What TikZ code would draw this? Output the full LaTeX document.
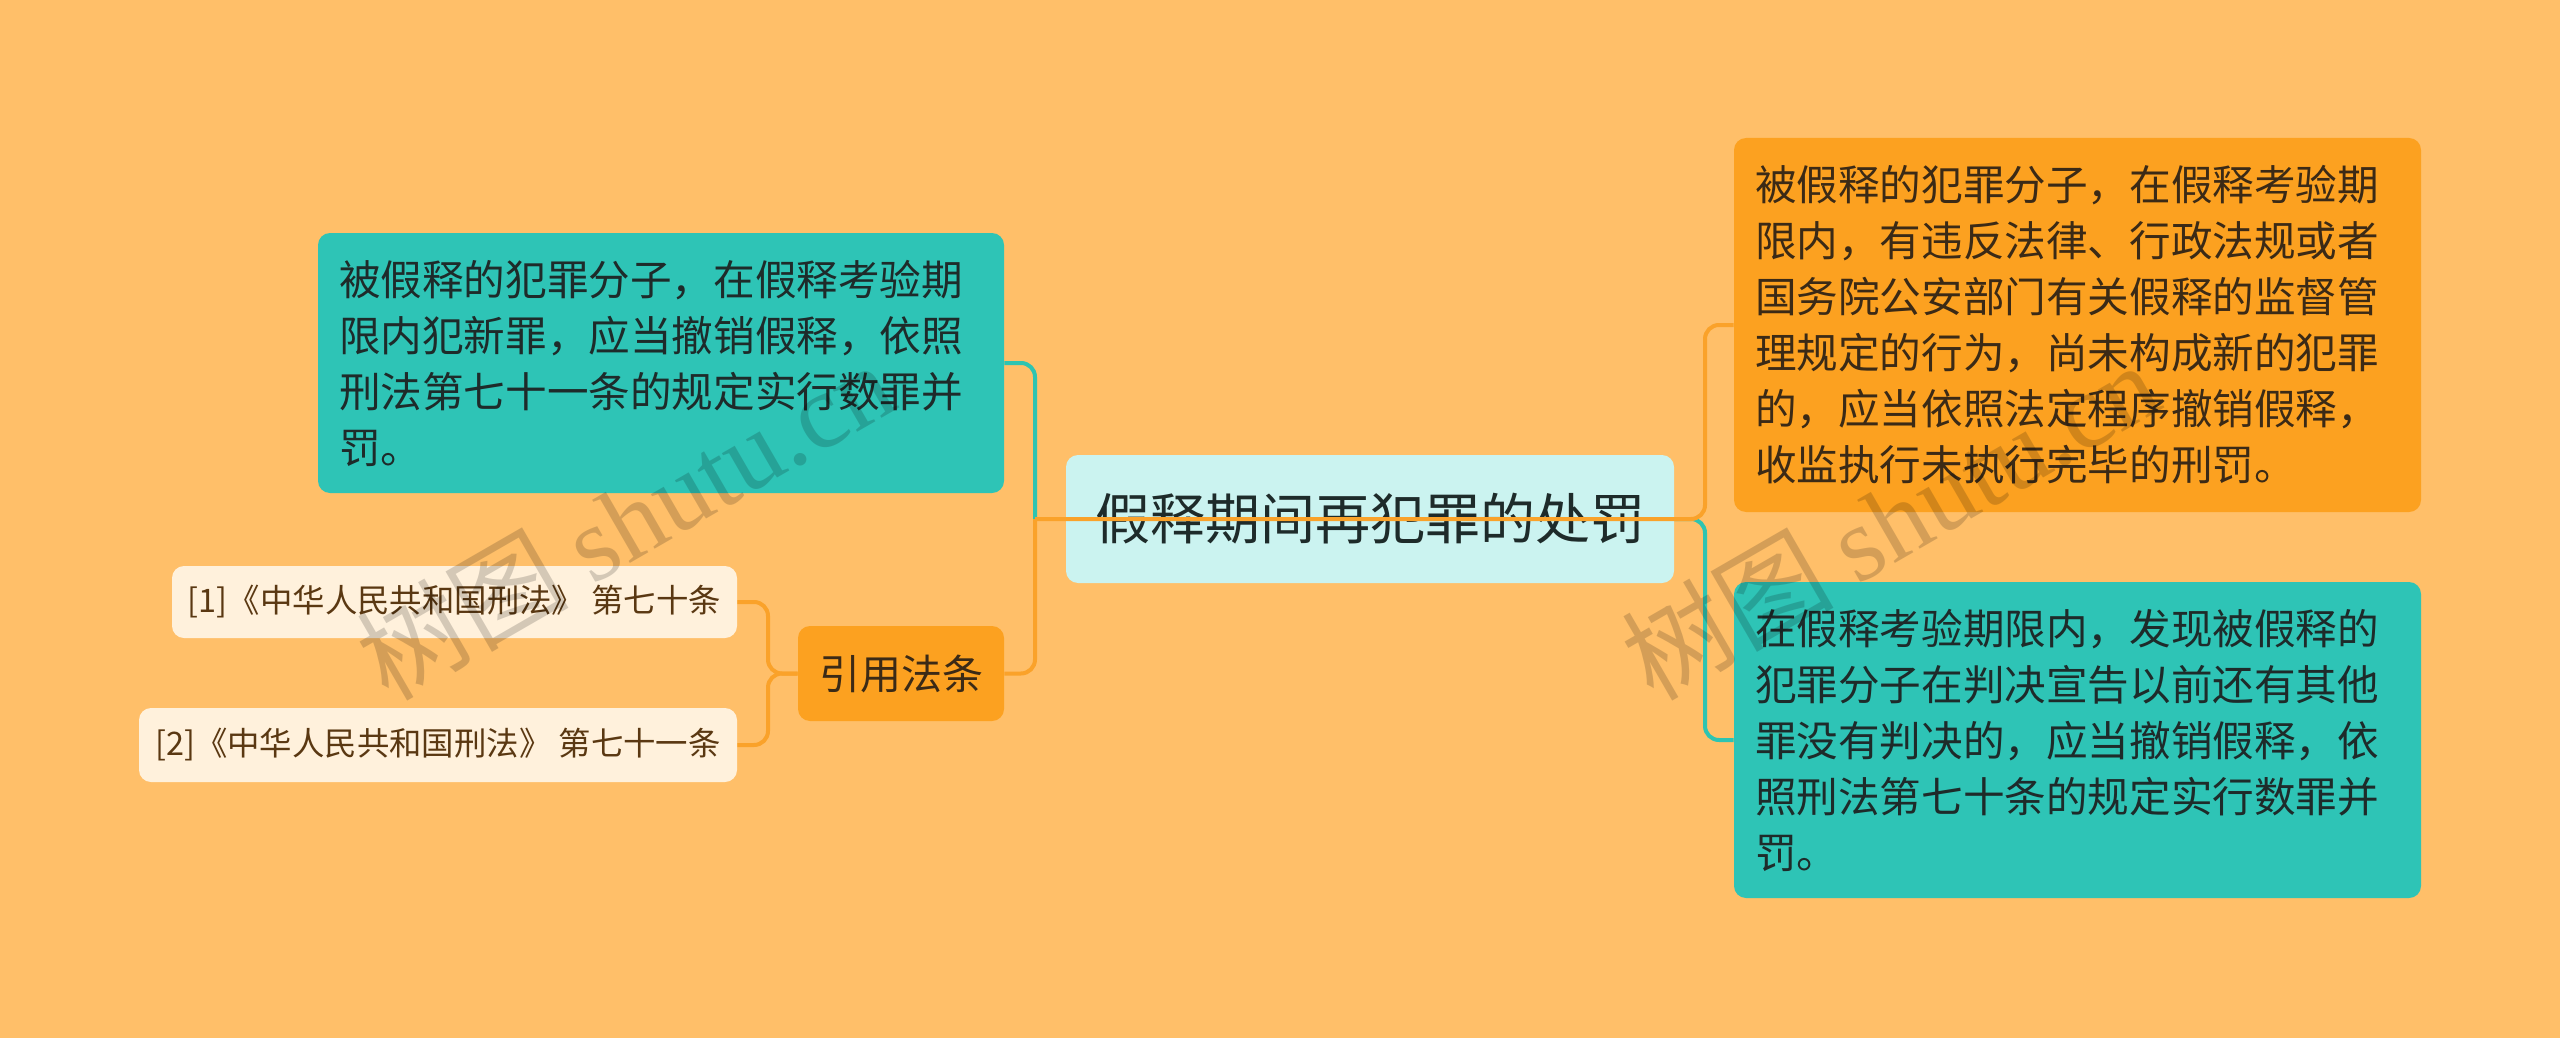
\documentclass[tikz,border=0pt]{standalone}
\usepackage{fontspec}
\setmainfont{Noto Sans CJK SC}
\newfontfamily\cjk{Noto Sans CJK SC}
\newfontfamily\wmlatin{Liberation Serif}
\definecolor{bgc}{HTML}{FFBF69}
\definecolor{tealbox}{HTML}{2EC4B6}
\definecolor{rootfill}{HTML}{CBF3F0}
\definecolor{orangebox}{HTML}{FCA120}
\definecolor{leaffill}{HTML}{FFF1DC}
\definecolor{lineor}{HTML}{FAA22A}
\definecolor{lineteal}{HTML}{2EC4B1}
\definecolor{darktxt}{HTML}{1E2B2A}
\definecolor{browntxt}{HTML}{3B2A16}
\definecolor{leaftxt}{HTML}{5A3812}
\tikzset{
  card/.style={rounded corners=6pt, inner xsep=10.5pt, inner ysep=0pt, align=left},
  leafbox/.style={rounded corners=6pt, fill=leaffill, text=leaftxt, inner sep=0pt,
    font=\fontsize{16.2pt}{19pt}\selectfont},
  orline/.style={draw=lineor, line width=2pt, rounded corners=7pt},
  tealline/.style={draw=lineteal, line width=2pt, rounded corners=7pt},
  wmark/.style={text=black, opacity=0.17, font=\fontsize{53pt}{58pt}\selectfont, inner sep=0pt}
}
\begin{document}
\begin{tikzpicture}[x=0.5pt,y=-0.5pt]
\fill[bgc] (0,0) rectangle (2560,1038);
\useasboundingbox (0,0) rectangle (2560,1038);

% root
\node[rounded corners=6pt, fill=rootfill, text=darktxt, minimum width=304pt, minimum height=64pt,
  inner sep=0pt, font=\fontsize{27.5pt}{32pt}\selectfont] (root) at (1370,519) {假释期间再犯罪的处罚};

% left teal box
\node[card, fill=tealbox, text=darktxt, text width=322pt, minimum height=130pt,
  font=\fontsize{20.8pt}{28pt}\selectfont] (lbox) at (661,363)
  {被假释的犯罪分子，在假释考验期\\限内犯新罪，应当撤销假释，依照\\刑法第七十一条的规定实行数罪并\\罚。};

% cite node
\node[rounded corners=6pt, fill=orangebox, text=browntxt, minimum width=103pt, minimum height=47.5pt,
  inner sep=0pt, font=\fontsize{20.5pt}{24pt}\selectfont] (cite) at (901,673.5) {引用法条};

% leaves
\node[leafbox, minimum width=282.5pt, minimum height=36pt] (leafa) at (454.5,602)
  {[1]《中华人民共和国刑法》 第七十条};
\node[leafbox, minimum width=299pt, minimum height=37pt] (leafb) at (438,745)
  {[2]《中华人民共和国刑法》 第七十一条};

% right orange box
\node[card, fill=orangebox, text=browntxt, text width=322.5pt, minimum height=187pt,
  font=\fontsize{20.8pt}{28pt}\selectfont] (rbox) at (2077.5,325)
  {被假释的犯罪分子，在假释考验期\\限内，有违反法律、行政法规或者\\国务院公安部门有关假释的监督管\\理规定的行为，尚未构成新的犯罪\\的，应当依照法定程序撤销假释，\\收监执行未执行完毕的刑罚。};

% right teal box
\node[card, fill=tealbox, text=darktxt, text width=322.5pt, minimum height=158pt,
  font=\fontsize{20.8pt}{28pt}\selectfont] (tbox) at (2077.5,740)
  {在假释考验期限内，发现被假释的\\犯罪分子在判决宣告以前还有其他\\罪没有判决的，应当撤销假释，依\\照刑法第七十条的规定实行数罪并\\罚。};

% junction coordinates
\coordinate (jl) at (1035,519);
\coordinate (jr) at (1705,519);
\coordinate (jc) at (768,673.5);

% connectors
\draw[tealline] (lbox.east) -| (jl);
\draw[orline] (cite.east) -| (jl);
\draw[tealline] (root.east) -- (jr) |- (tbox.west);
\draw[orline] (jl) -- (jr) |- (rbox.west);
\draw[orline] (cite.west) -- (jc) |- (leafa.east);
\draw[orline] (cite.west) -- (jc) |- (leafb.east);

% watermarks
\node[wmark, rotate=30] (wma) at (625,520) {\cjk 树图 \wmlatin shutu.cn};
\node[wmark, rotate=30] (wmb) at (1890,520) {\cjk 树图 \wmlatin shutu.cn};
\end{tikzpicture}
\end{document}
